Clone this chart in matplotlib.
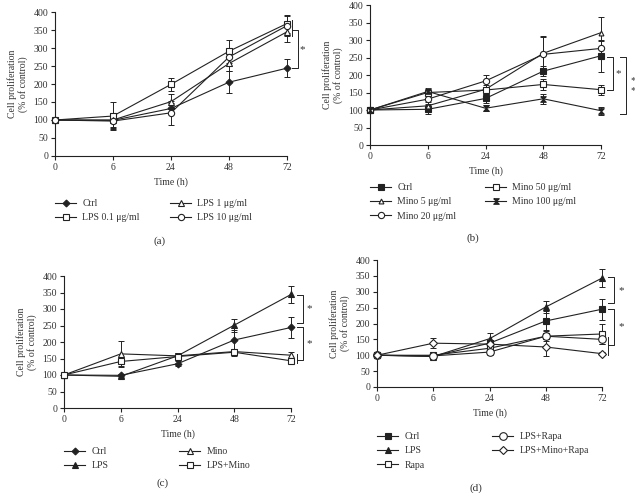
import numpy as np
import matplotlib
matplotlib.use("Agg")
import matplotlib.pyplot as plt

plt.rcParams['font.family'] = ['Liberation Serif', 'DejaVu Serif']
plt.rcParams['font.size'] = 7

# time points (categorical axis)
times = ["0", "6", "24", "48", "72"]

# (a) LPS doses
a_ctrl = [100, 99, 132, 205, 244]
a_ctrl_err = [3, 20, 15, 30, 25]
a_lps01 = [100, 111, 199, 291, 368]
a_lps01_err = [3, 38, 18, 32, 25]
a_lps1 = [100, 100, 151, 257, 345]
a_lps1_err = [3, 20, 20, 20, 28]
a_lps10 = [100, 97, 120, 275, 362]
a_lps10_err = [3, 22, 34, 25, 28]

# (b) Mino doses
b_ctrl = [100, 102, 133, 211, 255]
b_ctrl_err = [3, 12, 12, 15, 45]
b_mino5 = [100, 112, 159, 262, 321]
b_mino5_err = [3, 10, 12, 50, 45]
b_mino20 = [100, 131, 183, 259, 276]
b_mino20_err = [3, 15, 18, 50, 20]
b_mino50 = [100, 150, 157, 173, 158]
b_mino50_err = [3, 8, 10, 15, 14]
b_mino100 = [100, 153, 105, 132, 98]
b_mino100_err = [3, 8, 8, 15, 12]

# (c) LPS / Mino
c_ctrl = [100, 99, 134, 206, 244]
c_ctrl_err = [3, 5, 8, 30, 33]
c_lps = [100, 96, 158, 251, 344]
c_lps_err = [3, 5, 10, 20, 27]
c_mino = [100, 164, 158, 171, 160]
c_mino_err = [3, 40, 10, 8, 10]
c_lpsmino = [100, 141, 156, 169, 143]
c_lpsmino_err = [3, 15, 12, 10, 8]

# (d) Rapa
d_ctrl = [100, 97, 138, 208, 245]
d_ctrl_err = [3, 5, 10, 30, 33]
d_lps = [100, 96, 152, 252, 343]
d_lps_err = [3, 5, 18, 20, 28]
d_rapa = [100, 100, 122, 160, 167]
d_rapa_err = [3, 5, 10, 15, 30]
d_lpsrapa = [100, 98, 110, 160, 150]
d_lpsrapa_err = [3, 5, 8, 10, 15]
d_lmr = [100, 138, 135, 126, 105]
d_lmr_err = [3, 15, 8, 28, 5]

W, H = 635, 493
ink = '#222222'
txt = '#333333'
hourglass = [(-1, 1), (1, 1), (-1, -1), (1, -1), (-1, 1)]


def fx(px):
    return px / W


def fy(py):
    return 1 - py / H


def make_ax(fig, left, right, top, bottom):
    ax = fig.add_axes([fx(left), fy(bottom), (right - left) / W, (bottom - top) / H])
    ax.set_xlim(0, 4)
    ax.set_ylim(0, 400)
    ax.set_xticks(range(5))
    ax.set_xticklabels(times)
    ax.set_yticks(range(0, 401, 50))
    for s in ['top', 'right']:
        ax.spines[s].set_visible(False)
    for s in ['left', 'bottom']:
        ax.spines[s].set_color(ink)
        ax.spines[s].set_linewidth(0.8)
    ax.tick_params(direction='out', length=3, width=0.8, colors=ink,
                   labelcolor=txt, labelsize=7, pad=2)
    ax.set_xlabel("Time (h)", color=txt, fontsize=7, labelpad=4)
    ax.set_ylabel("Cell proliferation\n(% of control)", color=txt, fontsize=7,
                  labelpad=4, linespacing=1.1)
    return ax


def series(ax, y, err, marker, filled, label, ms=4.5):
    x = np.arange(len(y))
    ax.errorbar(x, y, yerr=err, fmt='none', ecolor=ink, elinewidth=0.7,
                capsize=2, capthick=0.7, clip_on=False, zorder=2)
    ax.plot(x, y, color=ink, lw=0.8, marker=marker, ms=ms, mec=ink, mew=0.8,
            mfc=ink if filled else 'white', label=label, clip_on=False,
            zorder=3)


def bracket(ax, x0, x1, y_top, y_bot, star, xs, rot=0):
    ax.plot([x0, x1, x1, x0], [y_top, y_top, y_bot, y_bot], color=ink,
            lw=0.7, clip_on=False)
    ax.text(xs, (y_top + y_bot) / 2, star, color=txt, fontsize=8,
            ha='center', va='center', rotation=rot, clip_on=False)


def legend(ax, fig, px, py, n1):
    handles, labels = ax.get_legend_handles_labels()
    for hs, ls, x in [(handles[:n1], labels[:n1], px),
                      (handles[n1:], labels[n1:], px + 115)]:
        fig.legend(hs, ls, loc='upper left', bbox_to_anchor=(fx(x), fy(py)),
                   frameon=False, fontsize=7, handlelength=2.2,
                   handletextpad=0.6, labelspacing=0.55, borderpad=0,
                   borderaxespad=0, labelcolor=txt)


fig = plt.figure(figsize=(W / 100, H / 100), dpi=100)

# (a)
ax = make_ax(fig, 55, 287, 12, 156)
series(ax, a_ctrl, a_ctrl_err, 'D', True, "Ctrl", 3.5)
series(ax, a_lps01, a_lps01_err, 's', False, "LPS 0.1 μg/ml")
series(ax, a_lps1, a_lps1_err, '^', False, "LPS 1 μg/ml")
series(ax, a_lps10, a_lps10_err, 'o', False, "LPS 10 μg/ml")
ax.plot([4.09, 4.09], [332, 378], color=ink, lw=0.7, clip_on=False)
bracket(ax, 4.09, 4.19, 349, a_ctrl[4], "*", 4.27)
legend(ax, fig, 55, 199, 2)
fig.text(fx(160), fy(241), "(a)", ha='center', va='center', color=txt, fontsize=8)

# (b)
ax = make_ax(fig, 370, 601, 5, 145)
series(ax, b_ctrl, b_ctrl_err, 's', True, "Ctrl", 4)
series(ax, b_mino5, b_mino5_err, '^', False, "Mino 5 μg/ml", 3.5)
series(ax, b_mino20, b_mino20_err, 'o', False, "Mino 20 μg/ml")
series(ax, b_mino50, b_mino50_err, 's', False, "Mino 50 μg/ml", 4)
series(ax, b_mino100, b_mino100_err, hourglass, True, "Mino 100 μg/ml", 4)
bracket(ax, 4.1, 4.21, b_ctrl[4] - 4, b_mino50[4], "*", 4.3)
bracket(ax, 4.33, 4.44, b_ctrl[4] - 4, 90, "*\n*", 4.56)
legend(ax, fig, 370, 183, 3)
fig.text(fx(473), fy(238), "(b)", ha='center', va='center', color=txt, fontsize=8)

# (c)
ax = make_ax(fig, 64, 291, 276, 408)
series(ax, c_ctrl, c_ctrl_err, 'D', True, "Ctrl", 3.5)
series(ax, c_lps, c_lps_err, '^', True, "LPS")
series(ax, c_mino, c_mino_err, '^', False, "Mino")
series(ax, c_lpsmino, c_lpsmino_err, 's', False, "LPS+Mino", 5)
bracket(ax, 4.1, 4.21, c_lps[4] - 2, 258, "*", 4.33)
bracket(ax, 4.1, 4.21, c_ctrl[4] + 2, 146, "*", 4.33)
ax.plot([4.1, 4.1], [135, 165], color=ink, lw=0.7, clip_on=False)
legend(ax, fig, 64, 447, 2)
fig.text(fx(163), fy(483), "(c)", ha='center', va='center', color=txt, fontsize=8)

# (d)
ax = make_ax(fig, 377, 602, 260, 387)
series(ax, d_ctrl, d_ctrl_err, 's', True, "Ctrl")
series(ax, d_lps, d_lps_err, '^', True, "LPS", 5)
series(ax, d_rapa, d_rapa_err, 's', False, "Rapa", 5)
series(ax, d_lpsrapa, d_lpsrapa_err, 'o', False, "LPS+Rapa", 5.5)
series(ax, d_lmr, d_lmr_err, 'D', False, "LPS+Mino+Rapa", 4)
bracket(ax, 4.1, 4.22, d_lps[4] + 4, 263, "*", 4.34)
bracket(ax, 4.1, 4.22, d_ctrl[4] + 2, 131, "*", 4.34)
ax.plot([4.1, 4.1], [100, 158], color=ink, lw=0.7, clip_on=False)
legend(ax, fig, 377, 432, 3)
fig.text(fx(476), fy(488), "(d)", ha='center', va='center', color=txt, fontsize=8)

fig.savefig("out.png", dpi=100)
